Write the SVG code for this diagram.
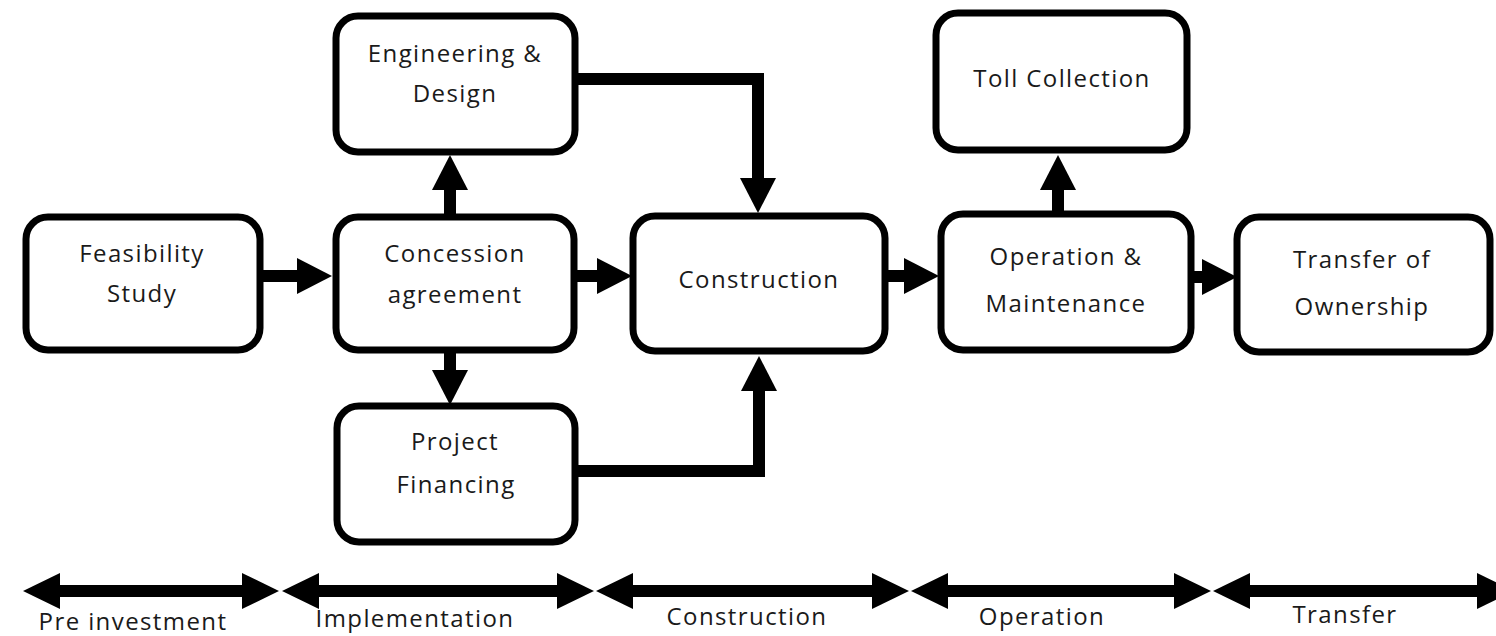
<svg xmlns="http://www.w3.org/2000/svg" width="1496" height="636" viewBox="0 0 1496 636">
<style>
.box{fill:#fff;stroke:#000;stroke-width:7}
.lbl{font-family:"Open Sans","Liberation Sans",sans-serif;font-size:24px;letter-spacing:1.4px;fill:#1a1a1a;text-anchor:middle}
.conn{fill:none;stroke:#000;stroke-width:12;stroke-linejoin:miter}
.tl{fill:none;stroke:#000;stroke-width:12;marker-start:url(#th);marker-end:url(#th)}
</style>
<defs>
<marker id="ah" markerUnits="userSpaceOnUse" markerWidth="36" markerHeight="36" refX="0" refY="18" orient="auto" overflow="visible">
<path d="M0,0 L35,18 L0,36 Z" fill="#000"/>
</marker>
<marker id="th" markerUnits="userSpaceOnUse" markerWidth="37" markerHeight="36" refX="0" refY="18" orient="auto-start-reverse" overflow="visible">
<path d="M0,0 L37,18 L0,36 Z" fill="#000"/>
</marker>
</defs>
<rect width="1496" height="636" fill="#fff"/>
<g id="connectors">
<path class="conn" marker-end="url(#ah)" d="M262,276 H297"/>
<path class="conn" marker-end="url(#ah)" d="M576,276 H597"/>
<path class="conn" marker-end="url(#ah)" d="M450,214 V190"/>
<path class="conn" marker-end="url(#ah)" d="M576,79 H758 V178"/>
<path class="conn" marker-end="url(#ah)" d="M450,352 V370"/>
<path class="conn" marker-end="url(#ah)" d="M576,471 H759 V391"/>
<path class="conn" marker-end="url(#ah)" d="M886,276 H904"/>
<path class="conn" marker-end="url(#ah)" d="M1058,212 V190"/>
<path class="conn" marker-end="url(#ah)" d="M1192,277 H1202"/>
</g>
<g id="timeline">
<path class="tl" d="M60,591 H242"/>
<path class="tl" d="M319,591 H557"/>
<path class="tl" d="M633,591 H872"/>
<path class="tl" d="M948,591 H1174"/>
<path class="tl" d="M1250,591 H1477"/>
<text class="lbl" x="133" y="630">Pre investment</text>
<text class="lbl" x="415" y="627">Implementation</text>
<text class="lbl" x="747" y="625">Construction</text>
<text class="lbl" x="1042" y="625">Operation</text>
<text class="lbl" x="1345" y="623">Transfer</text>
</g>
<g id="feasibility">
<rect class="box" x="26" y="217" width="234" height="133" rx="22"/>
<text class="lbl" x="142" y="262">Feasibility</text>
<text class="lbl" x="142" y="302">Study</text>
</g>
<g id="concession">
<rect class="box" x="336" y="217" width="238" height="133" rx="22"/>
<text class="lbl" x="455" y="262">Concession</text>
<text class="lbl" x="455" y="303">agreement</text>
</g>
<g id="engineering">
<rect class="box" x="336" y="16" width="239" height="136" rx="22"/>
<text class="lbl" x="455" y="62">Engineering &amp;</text>
<text class="lbl" x="455" y="102">Design</text>
</g>
<g id="financing">
<rect class="box" x="337" y="406" width="238" height="136" rx="22"/>
<text class="lbl" x="455" y="450">Project</text>
<text class="lbl" x="456" y="493">Financing</text>
</g>
<g id="construction">
<rect class="box" x="633" y="216" width="252" height="135" rx="22"/>
<text class="lbl" x="759" y="288">Construction</text>
</g>
<g id="toll">
<rect class="box" x="936" y="13" width="251" height="137" rx="22"/>
<text class="lbl" x="1062" y="87">Toll Collection</text>
</g>
<g id="operation">
<rect class="box" x="941" y="214" width="250" height="136" rx="22"/>
<text class="lbl" x="1066" y="265">Operation &amp;</text>
<text class="lbl" x="1066" y="312">Maintenance</text>
</g>
<g id="transfer">
<rect class="box" x="1237" y="217" width="253" height="135" rx="22"/>
<text class="lbl" x="1362" y="268">Transfer of</text>
<text class="lbl" x="1362" y="315">Ownership</text>
</g>
</svg>
